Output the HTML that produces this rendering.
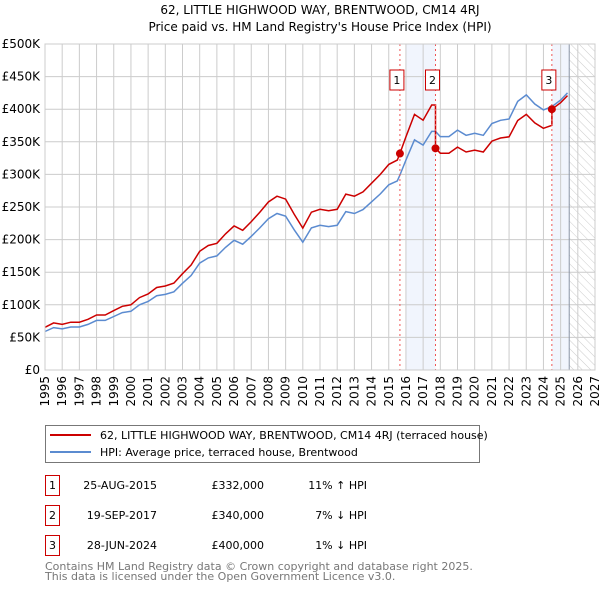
<!DOCTYPE html>
<html><head><meta charset="utf-8"><style>
body{margin:0;background:#fff;}
svg text{font-family:"DejaVu Sans","Liberation Sans",sans-serif;}
</style></head><body>
<svg id="chart" width="600" height="590" xmlns="http://www.w3.org/2000/svg">
<defs>
<pattern id="hatch" width="6" height="6" patternUnits="userSpaceOnUse" patternTransform="rotate(-45)">
<line x1="0" y1="0" x2="0" y2="6" stroke="#ccc" stroke-width="1"/></pattern>
</defs>
<text x="320" y="14" font-size="12" text-anchor="middle">62, LITTLE HIGHWOOD WAY, BRENTWOOD, CM14 4RJ</text>
<text x="320" y="31" font-size="12" text-anchor="middle">Price paid vs. HM Land Registry's House Price Index (HPI)</text>
<g id="plot"></g>
<g>
<rect x="45.5" y="425.5" width="434" height="37" fill="#fff" stroke="#777"/>
<line x1="50" y1="435" x2="91" y2="435" stroke="#cc0000" stroke-width="2"/>
<text x="100" y="439" font-size="11">62, LITTLE HIGHWOOD WAY, BRENTWOOD, CM14 4RJ (terraced house)</text>
<line x1="50" y1="452" x2="91" y2="452" stroke="#5b8bd0" stroke-width="2"/>
<text x="100" y="456" font-size="11">HPI: Average price, terraced house, Brentwood</text>
</g>
<g id="table" font-size="11"></g>
<text x="45" y="570" font-size="11" fill="#777">Contains HM Land Registry data © Crown copyright and database right 2025.</text>
<text x="45" y="580" font-size="11" fill="#777">This data is licensed under the Open Government Licence v3.0.</text>
</svg>
<script>
const hpiYears=[1995,1995.5,1996,1996.5,1997,1997.5,1998,1998.5,1999,1999.5,2000,2000.5,2001,2001.5,2002,2002.5,2003,2003.5,2004,2004.5,2005,2005.5,2006,2006.5,2007,2007.5,2008,2008.5,2009,2009.5,2010,2010.5,2011,2011.5,2012,2012.5,2013,2013.5,2014,2014.5,2015,2015.5,2015.65,2016,2016.5,2017,2017.5,2017.72,2018,2018.5,2019,2019.5,2020,2020.5,2021,2021.5,2022,2022.5,2023,2023.5,2024,2024.49,2025,2025.4];
const hpiValues=[59,65,63,66,66,70,76,76,82,88,90,100,105,114,116,120,133,145,164,172,175,188,199,193,205,218,232,240,236,215,196,218,222,220,222,243,240,246,258,270,284,290,299,322,353,345,366,366,358,358,368,360,363,360,378,383,385,412,422,408,399,404,414,425];
const saleLabels=["1","2","3"];
const saleYears=[2015.65,2017.72,2024.49];
const salePrices=[332,340,400];
const saleDates=["25-AUG-2015","19-SEP-2017","28-JUN-2024"];
const salePriceText=["£332,000","£340,000","£400,000"];
const saleHpiText=["11% \u2191 HPI","7% \u2193 HPI","1% \u2193 HPI"];
const yTicks=[0,50,100,150,200,250,300,350,400,450,500];
const yTickLabels=["£0","£50K","£100K","£150K","£200K","£250K","£300K","£350K","£400K","£450K","£500K"];
const xTicks=[1995,1996,1997,1998,1999,2000,2001,2002,2003,2004,2005,2006,2007,2008,2009,2010,2011,2012,2013,2014,2015,2016,2017,2018,2019,2020,2021,2022,2023,2024,2025,2026,2027];

const NS="http://www.w3.org/2000/svg";
const X0=45,X1=595,Y0=370,Y1=44;
const xs=y=>X0+(y-1995)/(2027-1995)*(X1-X0);
const ys=v=>Y0-v/500*(Y0-Y1);
function mk(tag,attrs,parent){const e=document.createElementNS(NS,tag);for(const k in attrs)e.setAttribute(k,attrs[k]);parent.appendChild(e);return e;}
const plot=document.getElementById('plot');
function hpiAt(t){for(let i=1;i<hpiYears.length;i++){if(t<=hpiYears[i]){const a=hpiYears[i-1],b=hpiYears[i];return hpiValues[i-1]+(hpiValues[i]-hpiValues[i-1])*(t-a)/(b-a);}}return hpiValues[hpiValues.length-1];}
// shading
let r=mk('rect',{x:xs(2016),y:Y1,width:xs(saleYears[1])-xs(2016),height:Y0-Y1,fill:'#eef3fc',opacity:0.8},plot);


r=mk('rect',{x:xs(saleYears[2]),y:Y1,width:xs(2025.5)-xs(saleYears[2]),height:Y0-Y1,fill:'#eef3fc',opacity:0.8},plot);


r=mk('rect',{x:xs(2025.5),y:Y1,width:X1-xs(2025.5),height:Y0-Y1,fill:'url(#hatch)'},plot);


// grid
yTicks.forEach((v,i)=>{
 const l=mk('line',{x1:X0,x2:X1,y1:ys(v),y2:ys(v),stroke:'#ccc','stroke-width':1},plot);
 
 
 const t=mk('text',{x:40,y:ys(v)+4,'font-size':12,'text-anchor':'end'},plot);t.textContent=yTickLabels[i];
 
 
});
xTicks.forEach(y=>{
 const l=mk('line',{x1:xs(y),x2:xs(y),y1:Y1,y2:Y0,stroke:'#ccc','stroke-width':1},plot);
 
 
 const t=mk('text',{x:0,y:0,'font-size':12,'text-anchor':'end',transform:`translate(${xs(y)+4},${Y0+6}) rotate(-90)`},plot);t.textContent=y;
 
 
});
let l=mk('line',{x1:xs(2025.5),x2:xs(2025.5),y1:Y1,y2:Y0,stroke:'#8a94a6','stroke-width':1},plot);


// HPI line
const hp=hpiYears.map((y,i)=>xs(y).toFixed(1)+','+ys(hpiValues[i]).toFixed(1)).join(' ');
let pl=mk('polyline',{points:hp,fill:'none',stroke:'#5b8bd0','stroke-width':1.5},plot);


// price line: HPI scaled from each sale
function factorAt(t){let k=0;for(let i=0;i<saleYears.length;i++){if(t>=saleYears[i]-1e-6)k=i;}return salePrices[k]/hpiAt(saleYears[k]);}
const pts=[];
hpiYears.forEach((y,i)=>{
 saleYears.forEach((s,j)=>{if(j>0&&Math.abs(s-y)<1e-6){pts.push([y,hpiValues[i]*salePrices[j-1]/hpiAt(saleYears[j-1])]);}});
 pts.push([y,hpiValues[i]*factorAt(y)]);
});
pl=mk('polyline',{points:pts.map(p=>xs(p[0]).toFixed(1)+','+ys(p[1]).toFixed(1)).join(' '),fill:'none',stroke:'#cc0000','stroke-width':1.5},plot);


// sale markers
saleYears.forEach((s,i)=>{
 const ln=mk('line',{x1:xs(s),x2:xs(s),y1:Y1,y2:Y0,stroke:'#ee5555','stroke-width':1,'stroke-dasharray':'2,3'},plot);
 
 
 const c=mk('circle',{cx:xs(s),cy:ys(salePrices[i]),r:4,fill:'#cc0000'},plot);
 
 
 const g=mk('g',{},plot);
 
 
 mk('rect',{x:xs(s)-10,y:70,width:14,height:20,fill:'#fff',stroke:'#cc0000'},g);
 const t=mk('text',{x:xs(s)-3,y:84,'font-size':11,'text-anchor':'middle'},g);t.textContent=saleLabels[i];
});
let fr=mk('rect',{x:X0,y:Y1,width:X1-X0,height:Y0-Y1,fill:'none',stroke:'#ccc'},plot);


// table
const tb=document.getElementById('table');
saleLabels.forEach((lab,i)=>{
 const y=475+i*30;
 const row=mk('g',{},tb);
 
 
 mk('rect',{x:45.5,y:y+0.5,width:14,height:20,fill:'#fff',stroke:'#cc0000'},row);
 let t=mk('text',{x:52.5,y:y+14,'text-anchor':'middle'},row);t.textContent=lab;
 t=mk('text',{x:157,y:y+14,'text-anchor':'end'},row);t.textContent=saleDates[i];
 t=mk('text',{x:264,y:y+14,'text-anchor':'end'},row);t.textContent=salePriceText[i];
 t=mk('text',{x:367,y:y+14,'text-anchor':'end'},row);t.textContent=saleHpiText[i];
});
</script>
</body></html>
